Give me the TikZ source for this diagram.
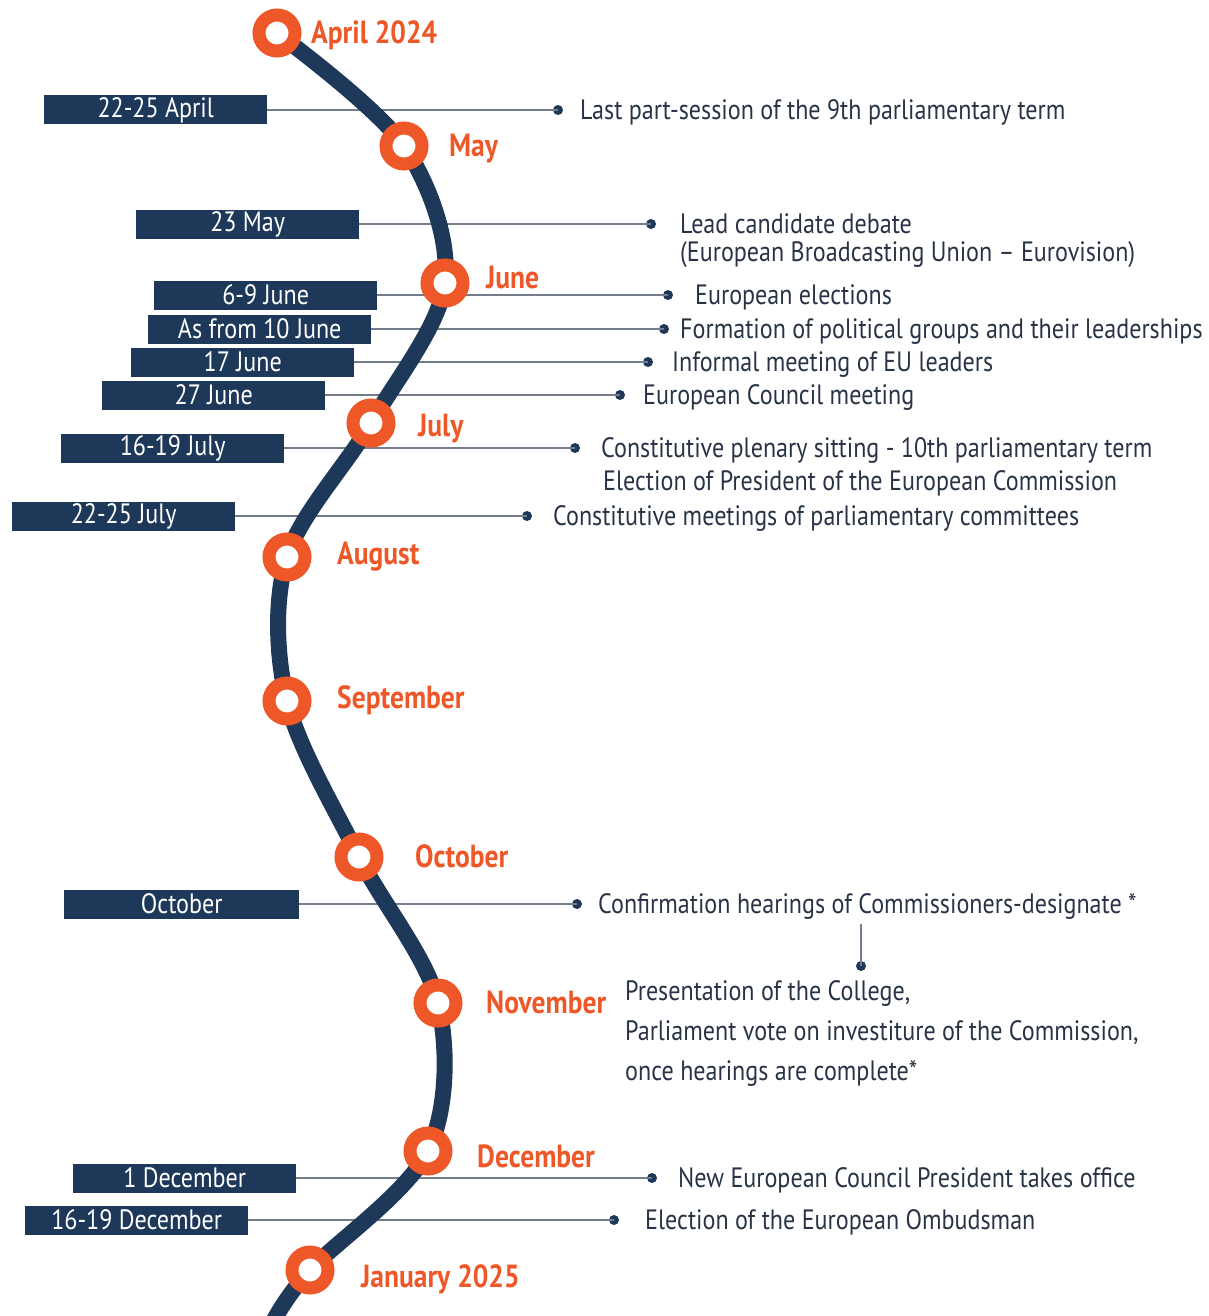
\documentclass[tikz,border=0pt]{standalone}
\usepackage{fontspec}
\setmainfont{PT Sans}[FakeStretch=0.86]
\definecolor{navy}{RGB}{30,56,90}
\definecolor{eporange}{RGB}{238,88,40}
\definecolor{connc}{RGB}{115,125,140}
\definecolor{evtext}{RGB}{40,52,70}
\begin{document}
\begin{tikzpicture}[x=1pt,y=-1pt,
  datebox/.style={fill=navy, text=white, minimum width=223pt, minimum height=29pt, inner sep=0pt, font=\fontsize{28}{28}\selectfont},
  evt/.style={anchor=mid west, text=evtext, inner sep=0pt, yshift=-7pt, font=\fontsize{28}{28}\selectfont},
  month/.style={anchor=mid west, text=eporange, inner sep=0pt, yshift=-8pt, font=\bfseries\fontsize{32}{32}\selectfont},
  ring/.style={circle, draw=eporange, line width=13pt, fill=white, minimum size=36pt, inner sep=0pt},
  conn/.style={draw=connc, line width=1.8pt},
  dotc/.style={circle, fill=navy, minimum size=10pt, inner sep=0pt},
  spine/.style={draw=navy, line width=16pt}
]
\useasboundingbox (0,0) rectangle (1209,1316);

% date boxes
\node[datebox, anchor=west] (b1) at (44,110) {22-25 April};
\node[datebox, anchor=west] (b2) at (136,224) {23 May};
\node[datebox, anchor=west] (b3) at (154,295) {6-9 June};
\node[datebox, anchor=west] (b4) at (148,329) {As from 10 June};
\node[datebox, anchor=west] (b5) at (131,362) {17 June};
\node[datebox, anchor=west] (b6) at (102,395) {27 June};
\node[datebox, anchor=west] (b7) at (61,448) {16-19 July};
\node[datebox, anchor=west] (b8) at (12,516) {22-25 July};
\node[datebox, anchor=west, minimum width=235pt] (b9) at (64,904) {October};
\node[datebox, anchor=west] (b10) at (73,1178) {1 December};
\node[datebox, anchor=west] (b11) at (25,1220) {16-19 December};

% dots
\node[dotc] (d1) at (558,110) {};
\node[dotc] (d2) at (651,224) {};
\node[dotc] (d3) at (668,295) {};
\node[dotc] (d4) at (664,329) {};
\node[dotc] (d5) at (648,362) {};
\node[dotc] (d6) at (620,395) {};
\node[dotc] (d7) at (575,448) {};
\node[dotc] (d8) at (527,516) {};
\node[dotc] (d9) at (577,904) {};
\node[dotc] (d10) at (861,966) {};
\node[dotc] (d11) at (652,1178) {};
\node[dotc] (d12) at (614,1220) {};
\coordinate (v9) at (861,924);

% connectors
\foreach \i in {1,...,8} {\draw[conn] (b\i.east) -- (d\i.center);}
\draw[conn] (b9.east) -- (d9.center);
\draw[conn] (v9) -- (d10.center);
\draw[conn] (b10.east) -- (d11.center);
\draw[conn] (b11.east) -- (d12.center);

% event texts
\node[evt] (e1) at (580,110) {Last part-session of the 9th parliamentary term};
\node[evt] (e2) at (680,224) {Lead candidate debate};
\node[evt] (e2b) at (680,252) {(European Broadcasting Union – Eurovision)};
\node[evt] (e3) at (695,295) {European elections};
\node[evt] (e4) at (680,329) {Formation of political groups and their leaderships};
\node[evt] (e5) at (672,362) {Informal meeting of EU leaders};
\node[evt] (e6) at (643,395) {European Council meeting};
\node[evt] (e7) at (601,448) {Constitutive plenary sitting - 10th parliamentary term};
\node[evt] (e7b) at (603,481) {Election of President of the European Commission};
\node[evt] (e8) at (553,516) {Constitutive meetings of parliamentary committees};
\node[evt] (e9) at (598,904) {Confirmation hearings of Commissioners-designate *};
\node[evt] (e10) at (625,991) {Presentation of the College,};
\node[evt] (e10b) at (625,1031) {Parliament vote on investiture of the Commission,};
\node[evt] (e10c) at (625,1071) {once hearings are complete*};
\node[evt] (e11) at (678,1178) {New European Council President takes office};
\node[evt] (e12) at (645,1220) {Election of the European Ombudsman};

% spine
\coordinate (c1) at (277,33);
\coordinate (c2) at (404,146);
\coordinate (c3) at (445,283);
\coordinate (c4) at (371,423);
\coordinate (c5) at (287,557);
\coordinate (c6) at (287,701);
\coordinate (c7) at (359,857);
\coordinate (c8) at (438,1003);
\coordinate (c9) at (428,1151);
\coordinate (c10) at (310,1270);
\coordinate (cend) at (274,1320);
\draw[spine] plot[smooth, tension=0.55] coordinates {(c1) (c2) (c3) (c4) (c5) (c6) (c7) (c8) (c9) (c10) (cend)};

% rings
\foreach \i in {1,...,10} {\node[ring] (m\i) at (c\i) {};}

% month labels
\node[month] (l1) at (311,33) {April 2024};
\node[month] (l2) at (449,146) {May};
\node[month] (l3) at (486,278) {June};
\node[month] (l4) at (418,426) {July};
\node[month] (l5) at (337,554) {August};
\node[month] (l6) at (337,698) {September};
\node[month] (l7) at (415,857) {October};
\node[month] (l8) at (486,1003) {November};
\node[month] (l9) at (477,1157) {December};
\node[month] (l10) at (361,1277) {January 2025};
\end{tikzpicture}
\end{document}
